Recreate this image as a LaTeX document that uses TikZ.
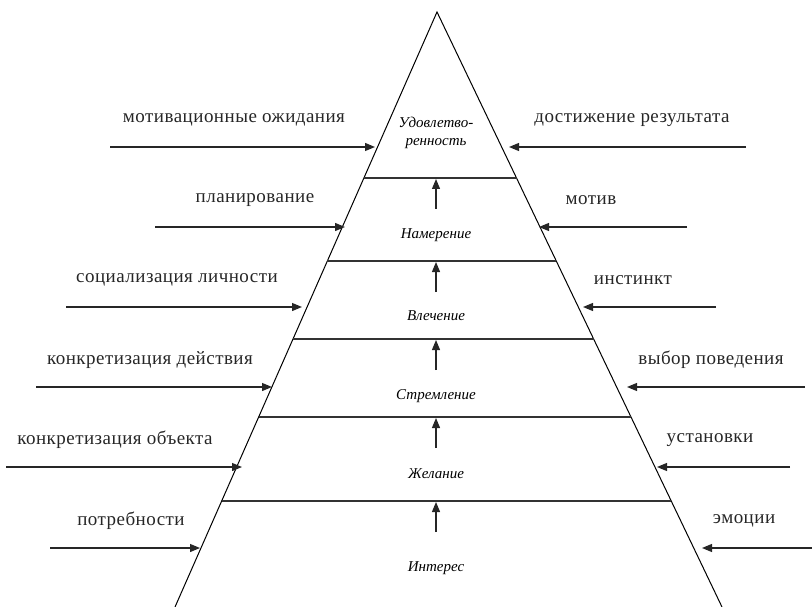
\documentclass[tikz,border=0pt]{standalone}
\usepackage{fontspec}
\setmainfont{Liberation Serif}
\newfontfamily\spacedserif[LetterSpace=2.5]{Liberation Serif}
\usetikzlibrary{arrows.meta,calc}
\tikzset{
        sidelabel/.style={font=\spacedserif\fontsize{19}{21}\selectfont, text=black!85},
        layerlabel/.style={font=\itshape\fontsize{15}{16}\selectfont, align=center},
        pointer/.style={-{Triangle[length=10pt,width=8pt]}, line width=1.2pt, black!85},
        edge/.style={line width=1pt},
        border/.style={line width=1.3pt, black!80},
    }
\begin{document}
\begin{tikzpicture}[x=1pt, y=-1pt]
                \useasboundingbox (0,0) rectangle (812,607);
                % pyramid
                \coordinate (apex) at (437,12);
                \coordinate (baseL) at (175,607);
                \coordinate (baseR) at (722,607);
                \draw[edge] (baseL) -- (apex) -- (baseR);
                % layer borders and the arrows up to them
                \foreach \y [count=\i] in {178,261,339,417,501}
                {
                    \coordinate (bl\i) at ($(apex)!{(\y-12)/595}!(baseL)$);
                    \coordinate (br\i) at ($(apex)!{(\y-12)/595}!(baseR)$);
                    \draw[border] (bl\i) -- (br\i);
                    \coordinate (up\i) at (436,\y+31);
                    \coordinate (to\i) at (436,\y+1);
                    \draw[pointer] (up\i) -- (to\i);
                }
                % layer names
                \node[layerlabel] (satisfaction) at (436,133) {Удовлетво-\\[2pt]ренность};
                \node[layerlabel] (intention) at (436,235) {Намерение};
                \node[layerlabel] (attraction) at (436,316) {Влечение};
                \node[layerlabel] (aspiration) at (436,396) {Стремление};
                \node[layerlabel] (desire) at (436,474) {Желание};
                \node[layerlabel] (interest) at (436,568) {Интерес};
                % left side
                \foreach \txt/\y/\xs/\xt/\xl [count=\i] in
                    {мотивационные ожидания/147/110/375/234,
                     планирование/227/155/345/255,
                     социализация личности/307/66/302/177,
                     конкретизация действия/387/36/272/150,
                     конкретизация объекта/467/6/242/115,
                     потребности/548/50/200/131}
                {
                    \node[sidelabel] (left\i) at (\xl,\y-27) {\txt};
                    \coordinate (ls\i) at (\xs,\y);
                    \coordinate (lt\i) at (\xt,\y);
                    \draw[pointer] (ls\i) -- (lt\i);
                }
                % right side
                \foreach \txt/\y/\xs/\xt/\xl [count=\i] in
                    {достижение результата/147/746/509/632,
                     мотив/227/687/539/591,
                     инстинкт/307/716/583/633,
                     выбор поведения/387/805/627/711,
                     установки/467/790/657/710,
                     эмоции/548/812/702/744}
                {
                    \node[sidelabel] (right\i) at (\xl,\y-27) {\txt};
                    \coordinate (rs\i) at (\xs,\y);
                    \coordinate (rt\i) at (\xt,\y);
                    \draw[pointer] (rs\i) -- (rt\i);
                }
            \end{tikzpicture}
\end{document}
